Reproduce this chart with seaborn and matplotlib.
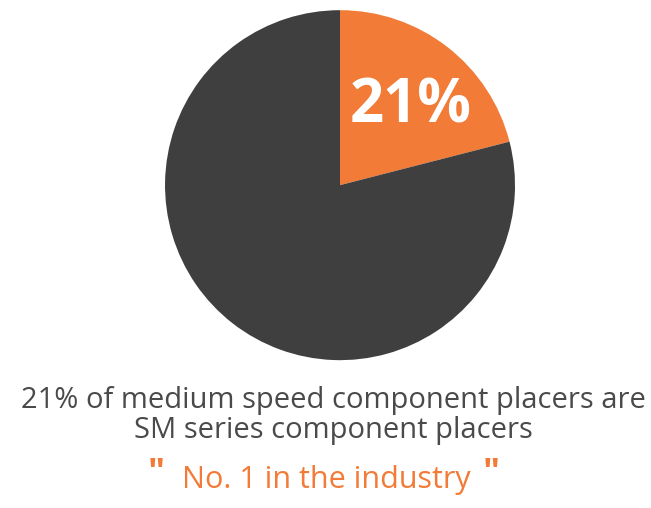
import matplotlib
matplotlib.use("Agg")
import matplotlib.pyplot as plt
import seaborn as sns

sns.set_theme(style="white")
plt.rcParams['font.family'] = ['Open Sans', 'DejaVu Sans']

# share of medium speed component placers
labels = ["SM series", "Others"]
shares = [21, 79]
colors = ["#F27B38", "#3F3F3F"]

caption = "21% of medium speed component placers are\nSM series component placers"
slogan = "No. 1 in the industry"

fig = plt.figure(figsize=(6.51, 5.08), dpi=100)
ax = fig.add_axes([0.2535, 0.291, 0.5376, 0.689])
wedges, texts, autotexts = ax.pie(
    shares, colors=colors, startangle=90, counterclock=False,
    autopct=lambda p: f"{p:.0f}%" if p < 50 else "",
    pctdistance=0.63, wedgeprops=dict(linewidth=0))
for t in autotexts:
    t.set_color("white")
    t.set_fontsize(43)
    t.set_fontweight("bold")
    x, y = t.get_position()
    t.set_position((x + 0.02, y - 0.05))
ax.set_xlim(-1, 1)
ax.set_ylim(-1, 1)
ax.set_aspect("equal")
ax.axis("off")

fig.text(0.512, 0.182, caption, ha="center", va="center", fontsize=21,
         color="#4A4A4A", linespacing=1.05)
fig.text(0.501, 0.055, slogan, ha="center", va="center", fontsize=22,
         color="#F27B38")
fig.text(0.24, 0.065, "\"", ha="center", va="center", fontsize=26,
         color="#F27B38", fontweight="bold")
fig.text(0.755, 0.065, "\"", ha="center", va="center", fontsize=26,
         color="#F27B38", fontweight="bold")

fig.savefig("out.png", dpi=100)
